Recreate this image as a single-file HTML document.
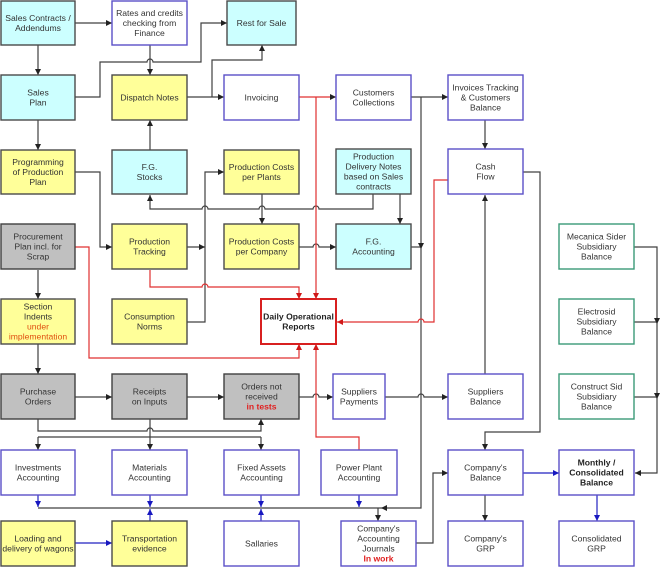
<!DOCTYPE html>
<html><head><meta charset="utf-8"><style>
html,body{margin:0;padding:0;background:#fff;}
svg{display:block;}
text{font-family:"Liberation Sans",Arial,sans-serif;font-size:8.6px;fill:#333;text-anchor:middle;}
.b{font-weight:bold;fill:#222;}
.r{fill:#e02020;font-weight:bold;}
.o{fill:#e05010;}
.cy{fill:#ccffff;stroke:#4a4a4a;stroke-width:1.4;}
.ye{fill:#ffff99;stroke:#4a4a4a;stroke-width:1.4;}
.gr{fill:#c0c0c0;stroke:#404040;stroke-width:1.4;}
.wh{fill:#fff;stroke:#5a50c8;stroke-width:1.4;}
.gn{fill:#fff;stroke:#3a9a78;stroke-width:1.4;}
.rd{fill:#fff;stroke:#d82020;stroke-width:2;}
.k{fill:none;stroke:#404040;stroke-width:1.2;}
.kr{fill:none;stroke:#e03030;stroke-width:1.2;}
.kb{fill:none;stroke:#2020c0;stroke-width:1.2;}
</style></head><body>
<svg width="660" height="567" viewBox="0 0 660 567" xmlns="http://www.w3.org/2000/svg">
<defs>
<marker id="ak" markerUnits="userSpaceOnUse" markerWidth="7" markerHeight="7" refX="6" refY="3" orient="auto"><path d="M0,0 L6,3 L0,6 z" fill="#222"/></marker>
<marker id="ar" markerUnits="userSpaceOnUse" markerWidth="7" markerHeight="7" refX="6" refY="3" orient="auto"><path d="M0,0 L6,3 L0,6 z" fill="#d01818"/></marker>
<marker id="ab" markerUnits="userSpaceOnUse" markerWidth="7" markerHeight="7" refX="6" refY="3" orient="auto"><path d="M0,0 L6,3 L0,6 z" fill="#1818c0"/></marker>
</defs>

<!-- black connectors -->
<path class="k" marker-end="url(#ak)" d="M75,23 H112"/>
<path class="k" marker-end="url(#ak)" d="M38,45 V75"/>
<path class="k" marker-end="url(#ak)" d="M75,97 H100 V62 H147 A3,3 0 0 1 153,62 H201 V23 H227"/>
<path class="k" marker-end="url(#ak)" d="M150,45 V75"/>
<path class="k" marker-end="url(#ak)" d="M187,97 H224"/>
<path class="k" marker-end="url(#ak)" d="M212,97 V60 H262 V45"/>
<path class="k" marker-end="url(#ak)" d="M38,120 V150"/>
<path class="k" marker-end="url(#ak)" d="M150,150 V120"/>
<path class="k" marker-end="url(#ak)" d="M75,172 H100 V247 H112"/>
<path class="k" marker-end="url(#ak)" d="M187,322 H205 V172 H224"/>
<path class="k" marker-end="url(#ak)" d="M187,247 H205"/>
<path class="k" marker-end="url(#ak)" d="M262,194 V224"/>
<path class="k" marker-end="url(#ak)" d="M373,194 V209 H319 A3,3 0 0 0 313,209 H265 A3,3 0 0 0 259,209 H208 A3,3 0 0 0 202,209 H150 V195"/>
<path class="k" marker-end="url(#ak)" d="M400,194 V224"/>
<path class="k" marker-end="url(#ak)" d="M299,247 H313 A3,3 0 0 1 319,247 H336"/>
<path class="k" marker-end="url(#ak)" d="M411,97 H448"/>
<path class="k" marker-end="url(#ak)" d="M421,97 V508 H381"/>
<path class="k" d="M411,247 H421"/>
<polygon points="418,243 424,243 421,249" fill="#222"/>
<path class="k" d="M38,508 H381"/>
<path class="k" marker-end="url(#ak)" d="M378,508 V521"/>
<path class="k" marker-end="url(#ak)" d="M485,120 V149"/>
<path class="k" marker-end="url(#ak)" d="M523,172 H540 V432 H485 V450"/>
<path class="k" marker-end="url(#ak)" d="M485,374 V195"/>
<path class="k" marker-end="url(#ak)" d="M634,247 H657 V473 H635"/>
<path class="k" d="M634,322 H657"/>
<path class="k" d="M634,397 H657"/>
<polygon points="654,318 660,318 657,324" fill="#222"/>
<polygon points="654,393 660,393 657,399" fill="#222"/>
<path class="k" marker-end="url(#ak)" d="M485,495 V521"/>
<path class="k" marker-end="url(#ak)" d="M416,543 H433 V473 H448"/>
<path class="k" marker-end="url(#ak)" d="M75,397 H112"/>
<path class="k" marker-end="url(#ak)" d="M187,397 H224"/>
<path class="k" marker-end="url(#ak)" d="M299,397 H313 A3,3 0 0 1 319,397 H333"/>
<path class="k" marker-end="url(#ak)" d="M385,397 H418 A3,3 0 0 1 424,397 H448"/>
<path class="k" marker-end="url(#ak)" d="M38,270 V299"/>
<path class="k" marker-end="url(#ak)" d="M38,344 V374"/>
<path class="k" marker-end="url(#ak)" d="M38,419 V431 H147 A3,3 0 0 1 153,431 H261 V419"/>
<path class="k" marker-end="url(#ak)" d="M150,419 V450"/>
<path class="k" d="M38,437 H261"/>
<path class="k" marker-end="url(#ak)" d="M38,437 V450"/>
<path class="k" marker-end="url(#ak)" d="M261,437 V450"/>

<!-- red connectors -->
<path class="kr" marker-end="url(#ak)" d="M299,97 H336"/>
<path class="kr" marker-end="url(#ar)" d="M316,97 V299"/>
<path class="kr" marker-end="url(#ar)" d="M150,270 V287 H202 A3,3 0 0 1 208,287 H299 V299"/>
<path class="kr" marker-end="url(#ar)" d="M75,247 H89 V358 H299 V344"/>
<path class="kr" marker-end="url(#ar)" d="M359,450 V437 H316 V344"/>
<path class="kr" marker-end="url(#ar)" d="M448,180 H434 V322 H424 A3,3 0 0 0 418,322 H337"/>

<!-- blue connectors -->
<path class="kb" marker-end="url(#ab)" d="M38,495 V507"/>
<path class="kb" marker-end="url(#ab)" d="M150,495 V507"/>
<path class="kb" marker-end="url(#ab)" d="M150,521 V509"/>
<path class="kb" marker-end="url(#ab)" d="M261,495 V507"/>
<path class="kb" marker-end="url(#ab)" d="M261,521 V509"/>
<path class="kb" marker-end="url(#ab)" d="M359,495 V507"/>
<path class="kb" marker-end="url(#ab)" d="M75,543 H112"/>
<path class="kb" marker-end="url(#ab)" d="M523,473 H559"/>
<path class="kb" marker-end="url(#ab)" d="M597,495 V521"/>

<!-- boxes -->
<rect class="cy" x="1" y="1" width="74" height="44"/>
<rect class="wh" x="112" y="1" width="75" height="44"/>
<rect class="cy" x="227" y="1" width="69" height="44"/>
<rect class="cy" x="1" y="75" width="74" height="45"/>
<rect class="ye" x="112" y="75" width="75" height="45"/>
<rect class="wh" x="224" y="75" width="75" height="45"/>
<rect class="wh" x="336" y="75" width="75" height="45"/>
<rect class="wh" x="448" y="75" width="75" height="45"/>
<rect class="ye" x="1" y="150" width="74" height="44"/>
<rect class="cy" x="112" y="150" width="75" height="44"/>
<rect class="ye" x="224" y="150" width="75" height="44"/>
<rect class="cy" x="336" y="149" width="75" height="45"/>
<rect class="wh" x="448" y="149" width="75" height="45"/>
<rect class="gr" x="1" y="224" width="74" height="45"/>
<rect class="ye" x="112" y="224" width="75" height="45"/>
<rect class="ye" x="224" y="224" width="75" height="45"/>
<rect class="cy" x="336" y="224" width="75" height="45"/>
<rect class="gn" x="559" y="224" width="75" height="45"/>
<rect class="ye" x="1" y="299" width="74" height="45"/>
<rect class="ye" x="112" y="299" width="75" height="45"/>
<rect class="rd" x="261" y="299" width="75" height="45"/>
<rect class="gn" x="559" y="299" width="75" height="45"/>
<rect class="gr" x="1" y="374" width="74" height="45"/>
<rect class="gr" x="112" y="374" width="75" height="45"/>
<rect class="gr" x="224" y="374" width="75" height="45"/>
<rect class="wh" x="333" y="374" width="52" height="45"/>
<rect class="wh" x="448" y="374" width="75" height="45"/>
<rect class="gn" x="559" y="374" width="75" height="45"/>
<rect class="wh" x="1" y="450" width="74" height="45"/>
<rect class="wh" x="112" y="450" width="75" height="45"/>
<rect class="wh" x="224" y="450" width="75" height="45"/>
<rect class="wh" x="321" y="450" width="76" height="45"/>
<rect class="wh" x="448" y="450" width="75" height="45"/>
<rect class="wh" x="559" y="450" width="75" height="45"/>
<rect class="ye" x="1" y="521" width="74" height="45"/>
<rect class="ye" x="112" y="521" width="75" height="45"/>
<rect class="wh" x="224" y="521" width="75" height="45"/>
<rect class="wh" x="341" y="521" width="75" height="45"/>
<rect class="wh" x="448" y="521" width="75" height="45"/>
<rect class="wh" x="559" y="521" width="75" height="45"/>

<!-- labels -->
<text x="38" y="21.1">Sales Contracts /</text><text x="38" y="31.1">Addendums</text>
<text x="149.5" y="16.1">Rates and credits</text><text x="149.5" y="26.1">checking from</text><text x="149.5" y="36.1">Finance</text>
<text x="261.5" y="26.1">Rest for Sale</text>
<text x="38" y="95.6">Sales</text><text x="38" y="105.6">Plan</text>
<text x="149.5" y="100.6">Dispatch Notes</text>
<text x="261.5" y="100.6">Invoicing</text>
<text x="373.5" y="95.6">Customers</text><text x="373.5" y="105.6">Collections</text>
<text x="485.5" y="90.6">Invoices Tracking</text><text x="485.5" y="100.6">&amp; Customers</text><text x="485.5" y="110.6">Balance</text>
<text x="38" y="165.1">Programming</text><text x="38" y="175.1">of Production</text><text x="38" y="185.1">Plan</text>
<text x="149.5" y="170.1">F.G.</text><text x="149.5" y="180.1">Stocks</text>
<text x="261.5" y="170.1">Production Costs</text><text x="261.5" y="180.1">per Plants</text>
<text x="373.5" y="159.6">Production</text><text x="373.5" y="169.6">Delivery Notes</text><text x="373.5" y="179.6">based on Sales</text><text x="373.5" y="189.6">contracts</text>
<text x="485.5" y="169.6">Cash</text><text x="485.5" y="179.6">Flow</text>
<text x="38" y="239.6">Procurement</text><text x="38" y="249.6">Plan incl. for</text><text x="38" y="259.6">Scrap</text>
<text x="149.5" y="244.6">Production</text><text x="149.5" y="254.6">Tracking</text>
<text x="261.5" y="244.6">Production Costs</text><text x="261.5" y="254.6">per Company</text>
<text x="373.5" y="244.6">F.G.</text><text x="373.5" y="254.6">Accounting</text>
<text x="596.5" y="239.6">Mecanica Sider</text><text x="596.5" y="249.6">Subsidiary</text><text x="596.5" y="259.6">Balance</text>
<text x="38" y="309.6">Section</text><text x="38" y="319.6">Indents</text><text class="o" x="38" y="329.6">under</text><text class="o" x="38" y="339.6">implementation</text>
<text x="149.5" y="319.6">Consumption</text><text x="149.5" y="329.6">Norms</text>
<text class="b" x="298.5" y="319.6">Daily Operational</text><text class="b" x="298.5" y="329.6">Reports</text>
<text x="596.5" y="314.6">Electrosid</text><text x="596.5" y="324.6">Subsidiary</text><text x="596.5" y="334.6">Balance</text>
<text x="38" y="394.6">Purchase</text><text x="38" y="404.6">Orders</text>
<text x="149.5" y="394.6">Receipts</text><text x="149.5" y="404.6">on Inputs</text>
<text x="261.5" y="389.6">Orders not</text><text x="261.5" y="399.6">received</text><text class="r" x="261.5" y="409.6">in tests</text>
<text x="359" y="394.6">Suppliers</text><text x="359" y="404.6">Payments</text>
<text x="485.5" y="394.6">Suppliers</text><text x="485.5" y="404.6">Balance</text>
<text x="596.5" y="389.6">Construct Sid</text><text x="596.5" y="399.6">Subsidiary</text><text x="596.5" y="409.6">Balance</text>
<text x="38" y="470.6">Investments</text><text x="38" y="480.6">Accounting</text>
<text x="149.5" y="470.6">Materials</text><text x="149.5" y="480.6">Accounting</text>
<text x="261.5" y="470.6">Fixed Assets</text><text x="261.5" y="480.6">Accounting</text>
<text x="359" y="470.6">Power Plant</text><text x="359" y="480.6">Accounting</text>
<text x="485.5" y="470.6">Company's</text><text x="485.5" y="480.6">Balance</text>
<text class="b" x="596.5" y="465.6">Monthly /</text><text class="b" x="596.5" y="475.6">Consolidated</text><text class="b" x="596.5" y="485.6">Balance</text>
<text x="38" y="541.6">Loading and</text><text x="38" y="551.6">delivery of wagons</text>
<text x="149.5" y="541.6">Transportation</text><text x="149.5" y="551.6">evidence</text>
<text x="261.5" y="546.6">Sallaries</text>
<text x="378.5" y="531.6">Company's</text><text x="378.5" y="541.6">Accounting</text><text x="378.5" y="551.6">Journals</text><text class="r" x="378.5" y="561.6">In work</text>
<text x="485.5" y="541.6">Company's</text><text x="485.5" y="551.6">GRP</text>
<text x="596.5" y="541.6">Consolidated</text><text x="596.5" y="551.6">GRP</text>
</svg>
</body></html>
